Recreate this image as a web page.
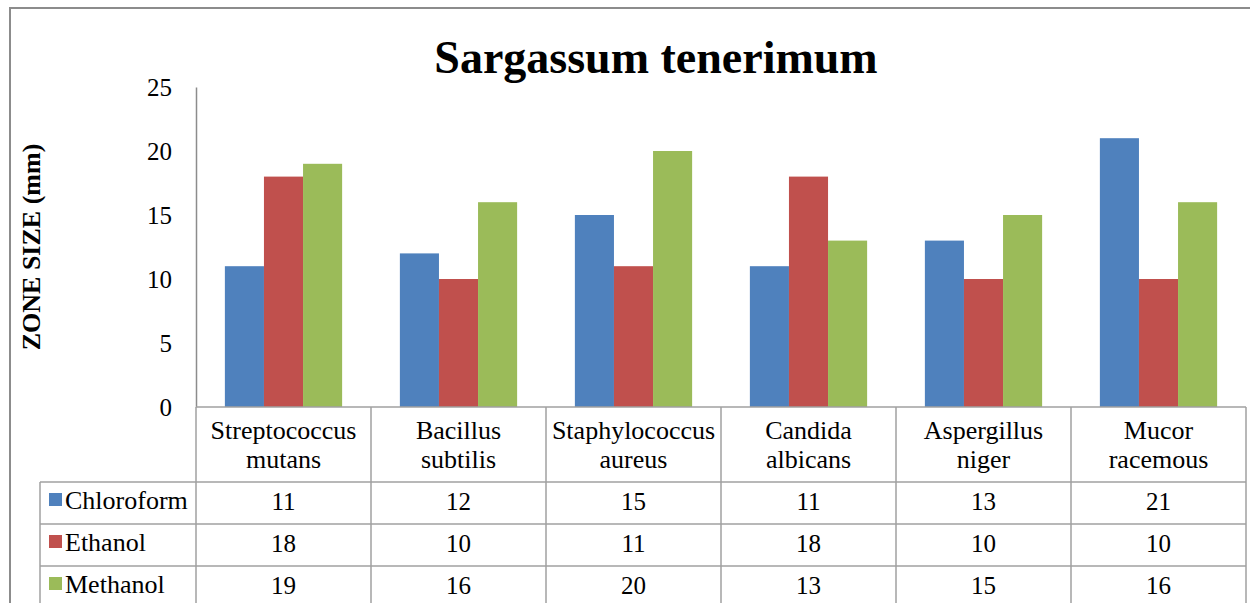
<!DOCTYPE html>
<html>
<head>
<meta charset="utf-8">
<script src="https://cdn.jsdelivr.net/npm/d3@7"></script>
<style>
  body { margin: 0; background: #fff; }
  text { font-family: 'Liberation Serif', 'Times New Roman', serif; fill: #000; }
</style>
</head>
<body>
<div id="chart"></div>
<script>
// data
const organisms = [
  ['Streptococcus', 'mutans'],
  ['Bacillus', 'subtilis'],
  ['Staphylococcus', 'aureus'],
  ['Candida', 'albicans'],
  ['Aspergillus', 'niger'],
  ['Mucor', 'racemous']
]
const solvents = ['Chloroform', 'Ethanol', 'Methanol']
const chloroform = [11, 12, 15, 11, 13, 21]
const ethanol = [18, 10, 11, 18, 10, 10]
const methanol = [19, 16, 20, 13, 15, 16]
const yTicks = [0, 5, 10, 15, 20, 25]
const colors = ['#4f81bd', '#c0504d', '#9bbb59']

const series = [chloroform, ethanol, methanol]

const W = 1250
const H = 603
const plot = { left: 196, right: 1246, top: 87, bottom: 407 }
const rowH = 42
const headerBottom = 482
const legendLeft = 40

const svg = d3
  .select('#chart')
  .append('svg')
  .attr('width', W)
  .attr('height', H)

// outer frame
svg
  .append('rect')
  .attr('x', 10)
  .attr('y', 8)
  .attr('width', W + 20)
  .attr('height', H + 20)
  .attr('fill', 'none')
  .attr('stroke', '#8c8c8c')
  .attr('stroke-width', 2)

const xScale = d3
  .scaleBand()
  .domain(d3.range(organisms.length))
  .range([plot.left, plot.right])
  .paddingInner(0.33)
  .paddingOuter(0.165)

const xSub = d3
  .scaleBand()
  .domain(d3.range(solvents.length))
  .range([0, xScale.bandwidth()])

const yScale = d3
  .scaleLinear()
  .domain([0, 25])
  .range([plot.bottom, plot.top])

// title
svg
  .append('text')
  .attr('x', 656)
  .attr('y', 73)
  .attr('text-anchor', 'middle')
  .style('font-size', '46px')
  .style('font-weight', 'bold')
  .text('Sargassum tenerimum')

// y axis label
svg
  .append('text')
  .attr('transform', 'translate(40,247) rotate(-90)')
  .attr('text-anchor', 'middle')
  .style('font-size', '26px')
  .style('font-weight', 'bold')
  .text('ZONE SIZE (mm)')

// y axis
const yAxis = d3
  .axisLeft(yScale)
  .tickValues(yTicks)
  .tickSize(0)
  .tickPadding(24)

const yG = svg
  .append('g')
  .attr('transform', `translate(${plot.left},0)`)
  .call(yAxis)
yG.select('.domain').attr('stroke', '#8c8c8c').attr('stroke-width', 1.5)
yG.selectAll('text')
  .style('font-size', '25px')
  .style('font-family', "'Liberation Serif', serif")

// bars
const groups = svg
  .selectAll('.group')
  .data(organisms)
  .enter()
  .append('g')
  .attr('class', 'group')
  .attr('transform', (d, i) => `translate(${xScale(i)},0)`)

groups
  .selectAll('rect')
  .data((d, i) => series.map((s, j) => ({ j, v: s[i] })))
  .enter()
  .append('rect')
  .attr('x', d => xSub(d.j))
  .attr('y', d => yScale(d.v))
  .attr('width', xSub.bandwidth())
  .attr('height', d => yScale(0) - yScale(d.v))
  .attr('fill', d => colors[d.j])

// data table
const colW = (plot.right - plot.left) / organisms.length
const lineColor = '#a0a0a0'
const grid = svg.append('g').attr('stroke', lineColor).attr('stroke-width', 1.5)

grid
  .append('line')
  .attr('x1', plot.left)
  .attr('x2', plot.right)
  .attr('y1', plot.bottom)
  .attr('y2', plot.bottom)

d3.range(solvents.length + 1).forEach(r => {
  grid
    .append('line')
    .attr('x1', legendLeft)
    .attr('x2', plot.right)
    .attr('y1', headerBottom + r * rowH)
    .attr('y2', headerBottom + r * rowH)
})

d3.range(organisms.length + 1).forEach(c => {
  grid
    .append('line')
    .attr('x1', plot.left + c * colW)
    .attr('x2', plot.left + c * colW)
    .attr('y1', plot.bottom)
    .attr('y2', H)
})

grid
  .append('line')
  .attr('x1', legendLeft)
  .attr('x2', legendLeft)
  .attr('y1', headerBottom)
  .attr('y2', H)

// category labels
organisms.forEach((lines, i) => {
  const t = svg
    .append('text')
    .attr('text-anchor', 'middle')
    .style('font-size', '26px')
  lines.forEach((l, k) => {
    t.append('tspan')
      .attr('x', plot.left + (i + 0.5) * colW)
      .attr('y', 439 + k * 29)
      .text(l)
  })
})

// legend rows + values
solvents.forEach((name, r) => {
  const cy = headerBottom + r * rowH + rowH / 2
  svg
    .append('rect')
    .attr('x', 49)
    .attr('y', cy - 10)
    .attr('width', 13)
    .attr('height', 13)
    .attr('fill', colors[r])
  svg
    .append('text')
    .attr('x', 65)
    .attr('y', cy + 6)
    .style('font-size', '26px')
    .text(name)
  series[r].forEach((v, i) => {
    svg
      .append('text')
      .attr('x', plot.left + (i + 0.5) * colW)
      .attr('y', cy + 7)
      .attr('text-anchor', 'middle')
      .style('font-size', '25px')
      .text(v)
  })
})
</script>
</body>
</html>
